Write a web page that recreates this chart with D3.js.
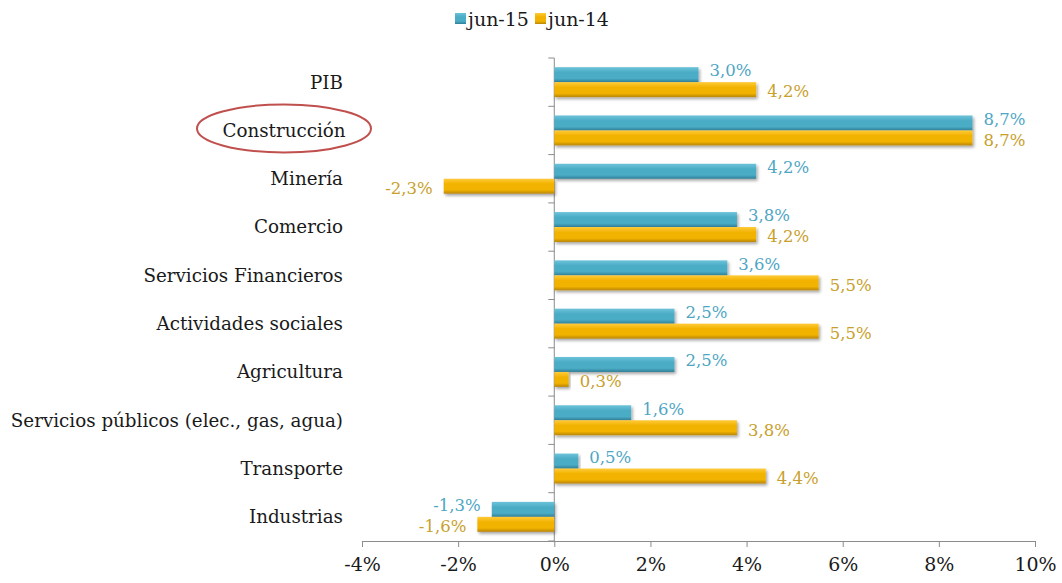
<!DOCTYPE html>
<html>
<head>
<meta charset="utf-8">
<script src="https://cdn.jsdelivr.net/npm/d3@7/dist/d3.min.js"></script>
<style>
  body { margin: 0; background: #fff; }
  text { font-family: "DejaVu Serif", "Liberation Serif", serif; }
</style>
</head>
<body>
<div id="chart"></div>
<script>
// Data
var categories = ["PIB", "Construcción", "Minería", "Comercio", "Servicios Financieros",
  "Actividades sociales", "Agricultura", "Servicios públicos (elec., gas, agua)", "Transporte", "Industrias"];
var seriesNames = ["jun-15", "jun-14"];
var jun15 = [3.0, 8.7, 4.2, 3.8, 3.6, 2.5, 2.5, 1.6, 0.5, -1.3];
var jun14 = [4.2, 8.7, -2.3, 4.2, 5.5, 5.5, 0.3, 3.8, 4.4, -1.6];
var xTicks = [-4, -2, 0, 2, 4, 6, 8, 10];
var highlighted = "Construcción";

var width = 1062, height = 583;
var labelColors = { "jun-15": "#4FA6C4", "jun-14": "#C9A02C" };

var data = categories.map(function (c, i) {
  return { key: c, values: [{ name: "jun-15", value: jun15[i] }, { name: "jun-14", value: jun14[i] }] };
});

var svg = d3.select("#chart").append("svg").attr("width", width).attr("height", height);

// gradients for the bevelled bar look
var defs = svg.append("defs");
function grad(id, top, mid, bot) {
  var g = defs.append("linearGradient").attr("id", id).attr("x1", 0).attr("y1", 0).attr("x2", 0).attr("y2", 1);
  g.append("stop").attr("offset", "0%").attr("stop-color", top);
  g.append("stop").attr("offset", "35%").attr("stop-color", mid);
  g.append("stop").attr("offset", "75%").attr("stop-color", mid);
  g.append("stop").attr("offset", "100%").attr("stop-color", bot);
}
grad("g-jun-15", "#6CC3D9", "#4BACC6", "#2F7F96");
grad("g-jun-14", "#FFCB3A", "#F2B200", "#B8860A");
var f = defs.append("filter").attr("id", "shadow").attr("x", "-5%").attr("y", "-30%").attr("width", "115%").attr("height", "170%");
f.append("feDropShadow").attr("dx", 1.5).attr("dy", 2).attr("stdDeviation", 1.5).attr("flood-color", "#000").attr("flood-opacity", 0.35);

var xScale = d3.scaleLinear().domain([-4, 10]).range([362, 1035]);
var yScale = d3.scaleBand().domain(categories).range([58, 541]).paddingInner(0.38).paddingOuter(0.19);
var ySub = d3.scaleBand().domain(seriesNames).range([0, yScale.bandwidth()]);
var step = yScale.step();

// x axis
var xAxis = d3.axisBottom(xScale).tickValues(xTicks).tickSize(6).tickPadding(11)
  .tickFormat(function (d) { return d + "%"; });
var gx = svg.append("g").attr("transform", "translate(0,541)").call(xAxis);
gx.select(".domain").attr("stroke", "#8c8c8c");
gx.selectAll(".tick line").attr("stroke", "#8c8c8c");
gx.selectAll(".tick text").attr("fill", "#1a1a1a").style("font-size", "19px")
  .style("font-family", "'DejaVu Serif', serif");

// y axis at zero
var x0 = xScale(0);
svg.append("line").attr("x1", x0).attr("x2", x0).attr("y1", 58).attr("y2", 541).attr("stroke", "#8c8c8c");
svg.append("g").selectAll("line").data(d3.range(categories.length + 1)).enter().append("line")
  .attr("x1", x0 - 6).attr("x2", x0)
  .attr("y1", function (i) { return 58 + step * i; })
  .attr("y2", function (i) { return 58 + step * i; })
  .attr("stroke", "#8c8c8c");

// bars
var groups = svg.selectAll(".bars").data(data).enter().append("g")
  .attr("transform", function (d) { return "translate(0," + yScale(d.key) + ")"; });

groups.selectAll("rect").data(function (d) { return d.values; }).enter().append("rect")
  .attr("x", function (d) { return Math.min(xScale(d.value), x0); })
  .attr("y", function (d) { return ySub(d.name); })
  .attr("width", function (d) { return Math.abs(xScale(d.value) - x0); })
  .attr("height", ySub.bandwidth())
  .attr("fill", function (d) { return "url(#g-" + d.name + ")"; })
  .attr("filter", "url(#shadow)");

// value labels
groups.selectAll("text.val").data(function (d) { return d.values; }).enter().append("text")
  .attr("class", "val")
  .text(function (d) { return d3.format(".1f")(d.value).replace(".", ",").replace("−", "-") + "%"; })
  .attr("x", function (d) { return d.value >= 0 ? xScale(d.value) + 11 : xScale(d.value) - 11; })
  .attr("y", function (d) { return ySub(d.name) + ySub.bandwidth() / 2 + (d.name == "jun-15" ? -4 : 2); })
  .attr("dy", "0.35em")
  .attr("text-anchor", function (d) { return d.value >= 0 ? "start" : "end"; })
  .attr("fill", function (d) { return labelColors[d.name]; })
  .style("font-size", "16.5px");

// highlight ellipse around Construcción
var ellipseX = 284;
svg.append("ellipse")
  .attr("cx", ellipseX).attr("cy", yScale(highlighted) + yScale.bandwidth() / 2 - 2)
  .attr("rx", 87).attr("ry", 24)
  .attr("fill", "none").attr("stroke", "#C0504D").attr("stroke-width", 2);

// category labels
svg.append("g").selectAll("text").data(categories).enter().append("text")
  .text(function (d) { return d; })
  .attr("x", function (d) { return d == highlighted ? ellipseX : 343; })
  .attr("y", function (d) { return yScale(d) + yScale.bandwidth() / 2; })
  .attr("dy", "0.35em")
  .attr("text-anchor", function (d) { return d == highlighted ? "middle" : "end"; })
  .attr("fill", "#1a1a1a")
  .style("font-size", "18.3px");

// legend
var legend = svg.append("g").selectAll("g").data(seriesNames).enter().append("g")
  .attr("transform", function (d, i) { return "translate(" + (455 + i * 80) + ",0)"; });
legend.append("rect").attr("x", 0).attr("y", 13).attr("width", 11).attr("height", 11)
  .attr("fill", function (d) { return "url(#g-" + d + ")"; });
legend.append("text").text(function (d) { return d; })
  .attr("x", 13).attr("y", 19).attr("dy", "0.35em")
  .attr("fill", "#1a1a1a").style("font-size", "19px");
</script>
</body>
</html>
